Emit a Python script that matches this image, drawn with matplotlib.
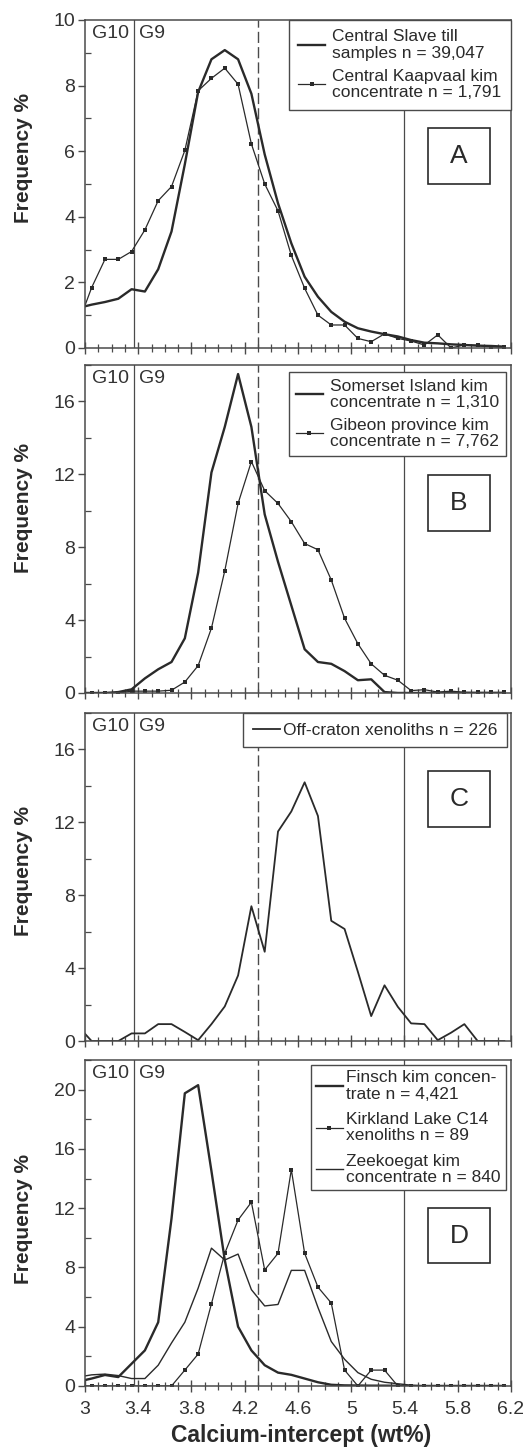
import matplotlib
matplotlib.use("Agg")
import matplotlib.pyplot as plt
from matplotlib.patches import Rectangle
from matplotlib.ticker import MultipleLocator, FuncFormatter

plt.rcParams['font.family'] = ['Liberation Sans', 'DejaVu Sans']

# ---------------- data ----------------
x_bins = [2.95, 3.05, 3.15, 3.25, 3.35, 3.45, 3.55, 3.65, 3.75, 3.85, 3.95,
          4.05, 4.15, 4.25, 4.35, 4.45, 4.55, 4.65, 4.75, 4.85, 4.95,
          5.05, 5.15, 5.25, 5.35, 5.45, 5.55, 5.65, 5.75, 5.85, 5.95,
          6.05, 6.15]

central_slave = [1.22, 1.32, 1.40, 1.50, 1.79, 1.72, 2.40, 3.55, 5.60, 7.80, 8.80,
                 9.08, 8.80, 7.75, 5.90, 4.41, 3.19, 2.17, 1.56, 1.10, 0.80,
                 0.60, 0.50, 0.42, 0.35, 0.24, 0.16, 0.14, 0.11, 0.09, 0.07,
                 0.06, 0.04]
central_kaapvaal = [0.75, 1.84, 2.70, 2.70, 2.94, 3.60, 4.49, 4.92, 6.02, 7.84, 8.22,
                    8.53, 8.04, 6.22, 5.00, 4.18, 2.82, 1.82, 1.00, 0.70, 0.70,
                    0.29, 0.19, 0.43, 0.29, 0.21, 0.09, 0.40, 0.00, 0.09, 0.08,
                    0.04, 0.02]

somerset = [0, 0, 0, 0.05, 0.2, 0.8, 1.3, 1.7, 3.0, 6.6, 12.1,
            14.6, 17.5, 14.6, 9.8, 7.2, 4.8, 2.4, 1.7, 1.6, 1.2,
            0.7, 0.75, 0.05, 0, 0, 0, 0, 0, 0, 0,
            0, 0]
gibeon = [0, 0, 0, 0, 0.1, 0.1, 0.1, 0.15, 0.6, 1.5, 3.56,
          6.7, 10.4, 12.7, 11.1, 10.4, 9.4, 8.2, 7.86, 6.2, 4.1,
          2.7, 1.6, 0.97, 0.7, 0.13, 0.18, 0.05, 0.1, 0.04, 0.03,
          0.03, 0.03]

off_craton = [0.8, 0, 0, 0, 0.42, 0.42, 0.93, 0.93, 0.5, 0.05, 0.93,
              1.9, 3.6, 7.4, 4.9, 11.5, 12.6, 14.2, 12.35, 6.6, 6.15,
              3.8, 1.37, 3.06, 1.88, 0.97, 0.93, 0.05, 0.46, 0.93, 0,
              0, 0]

finsch = [0.3, 0.5, 0.74, 0.6, 1.5, 2.4, 4.3, 11.3, 19.75, 20.3, 14.5,
          8.5, 4.0, 2.4, 1.4, 0.9, 0.75, 0.5, 0.25, 0.08, 0.04,
          0.03, 0.02, 0.02, 0.01, 0, 0, 0, 0, 0, 0,
          0, 0]
kirkland = [0, 0, 0, 0, 0, 0, 0, 0, 1.07, 2.15, 5.55,
            8.95, 11.2, 12.4, 7.83, 8.95, 14.6, 8.95, 6.67, 5.6, 1.07,
            0, 1.07, 1.07, 0, 0, 0, 0, 0, 0, 0,
            0, 0]
zeekoegat = [0.6, 0.75, 0.8, 0.7, 0.5, 0.5, 1.4, 2.9, 4.3, 6.6, 9.3,
             8.5, 8.9, 6.5, 5.4, 5.5, 7.8, 7.8, 5.3, 3.0, 1.8,
             0.9, 0.45, 0.25, 0.15, 0.05, 0, 0, 0, 0, 0,
             0, 0]

x_ticks = [3, 3.4, 3.8, 4.2, 4.6, 5, 5.4, 5.8, 6.2]
g10_line = 3.37
ca_dashed = 4.30
right_line = 5.40

# ---------------- styling ----------------
INK = '#2a2a2a'
GRAY = '#4a4a4a'
TICKC = '#333333'

fig = plt.figure(figsize=(5.23, 14.54), dpi=100)
fig.patch.set_facecolor('white')

left, width = 0.1625, 0.8145
positions = [
    [left, 0.7607, width, 0.2256],
    [left, 0.5234, width, 0.2256],
    [left, 0.2840, width, 0.2256],
    [left, 0.0468, width, 0.2242],
]
ylims = [10, 18, 18, 22]
ymajor = [2, 4, 4, 4]
yminor = [1, 2, 2, 2]
ylab_y = [0.58, 0.564, 0.518, 0.512]
letters = ['A', 'B', 'C', 'D']
letter_boxes = [(0.805, 0.500, 0.146, 0.171),
                (0.805, 0.494, 0.146, 0.171),
                (0.805, 0.652, 0.146, 0.171),
                (0.805, 0.377, 0.146, 0.169)]

axes = []
for i, pos in enumerate(positions):
    ax = fig.add_axes(pos)
    axes.append(ax)
    ax.set_xlim(3, 6.2)
    ax.set_ylim(0, ylims[i])
    for sp in ax.spines.values():
        sp.set_color(GRAY)
        sp.set_linewidth(1.1)
    ax.set_xticks(x_ticks)
    ax.xaxis.set_minor_locator(MultipleLocator(0.1))
    ax.yaxis.set_major_locator(MultipleLocator(ymajor[i]))
    ax.yaxis.set_minor_locator(MultipleLocator(yminor[i]))
    ax.tick_params(axis='x', which='major', direction='inout', length=8, width=1.0,
                   color=GRAY, labelsize=14, labelcolor=TICKC, pad=7)
    ax.tick_params(axis='x', which='minor', direction='inout', length=6, width=0.9,
                   color=GRAY)
    ax.tick_params(axis='y', which='major', direction='out', length=5, width=1.0,
                   color=GRAY, labelsize=14, labelcolor=TICKC, pad=2)
    ax.tick_params(axis='y', which='minor', direction='in', length=4, width=0.9,
                   color=GRAY)
    ax.xaxis.set_major_formatter(FuncFormatter(lambda v, p: '%g' % v))
    if i < 3:
        ax.tick_params(axis='x', labelbottom=False)
    # reference lines
    ax.axvline(g10_line, color=GRAY, lw=0.9, zorder=1)
    ax.axvline(ca_dashed, color=GRAY, lw=1.0, ls=(0, (8, 3)), zorder=1)
    ax.axvline(right_line, color=GRAY, lw=0.9, zorder=1)
    # G10 / G9 labels
    ax.text(g10_line - 0.04, 0.985, 'G10', transform=ax.get_xaxis_transform(),
            ha='right', va='top', fontsize=14, color=TICKC)
    ax.text(g10_line + 0.035, 0.985, 'G9', transform=ax.get_xaxis_transform(),
            ha='left', va='top', fontsize=14, color=TICKC)
    # Frequency label
    ax.text(-0.145, ylab_y[i], 'Frequency %', transform=ax.transAxes, rotation=90,
            ha='center', va='center', fontsize=15, fontweight='bold', color=INK)
    # panel letter
    bx, by, bw, bh = letter_boxes[i]
    ax.add_patch(Rectangle((bx, by), bw, bh, transform=ax.transAxes, fill=False,
                           ec=INK, lw=1.2, zorder=5))
    ax.text(bx + bw / 2, by + bh / 2, letters[i], transform=ax.transAxes,
            ha='center', va='center', fontsize=19, color=INK, zorder=6)


def legend(ax, anchor, borderpad, handletextpad, labelspacing, linespacing=1.15):
    leg = ax.legend(loc='upper right', bbox_to_anchor=anchor, borderaxespad=0,
                    frameon=True, fancybox=False, edgecolor=GRAY, framealpha=1,
                    fontsize=12.5, handlelength=1.55, handletextpad=handletextpad,
                    borderpad=borderpad, labelspacing=labelspacing)
    leg.get_frame().set_linewidth(1.0)
    for t in leg.get_texts():
        t.set_linespacing(linespacing)
        t.set_color(INK)
    return leg


thick = dict(color=INK, lw=1.7)
thin_mk = dict(color=INK, lw=0.9, marker='s', markersize=3.2, markerfacecolor=INK,
               markeredgewidth=0)

# Panel A
ax = axes[0]
ax.plot(x_bins, central_slave, label='Central Slave till\nsamples n = 39,047', **thick)
ax.plot(x_bins, central_kaapvaal, label='Central Kaapvaal kim\nconcentrate n = 1,791', **thin_mk)
legend(ax, (1.0, 1.0), 0.55, 0.4, 0.45, 1.12)

# Panel B
ax = axes[1]
ax.plot(x_bins, somerset, label='Somerset Island kim\nconcentrate n = 1,310', **thick)
ax.plot(x_bins, gibeon, label='Gibeon province kim\nconcentrate n = 7,762', **thin_mk)
legend(ax, (0.988, 0.979), 0.4, 0.4, 0.45, 1.1)

# Panel C
ax = axes[2]
ax.plot(x_bins, off_craton, color=INK, lw=1.3, label='Off-craton xenoliths n = 226')
legend(ax, (0.991, 1.0), 0.55, 0.2, 0.3, 1.1)

# Panel D
ax = axes[3]
ax.plot(x_bins, finsch, label='Finsch kim concen-\ntrate n = 4,421', **thick)
ax.plot(x_bins, kirkland, label='Kirkland Lake C14\nxenoliths n = 89', **thin_mk)
ax.plot(x_bins, zeekoegat, color=INK, lw=1.0, label='Zeekoegat kim\nconcentrate n = 840')
legend(ax, (0.988, 0.985), 0.3, 0.2, 0.6, 1.12)

fig.text(0.575, 0.013, 'Calcium-intercept (wt%)', ha='center', va='center',
         fontsize=16.5, fontweight='bold', color=INK)

fig.savefig('out.png', dpi=100, facecolor='white')
